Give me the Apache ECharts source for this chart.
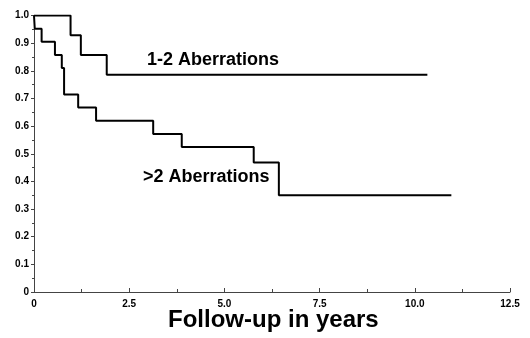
<!DOCTYPE html>
<html>
<head>
<meta charset="utf-8">
<script src="https://cdn.jsdelivr.net/npm/echarts@6/dist/echarts.min.js"></script>
<style>
  html, body { margin: 0; padding: 0; background: #fff; }
  #survChart { width: 530px; height: 338px; }
</style>
</head>
<body>
<div id="survChart"></div>
<script>
var fontFam = '"Liberation Sans", Arial, sans-serif';
var axisColor = '#444';

// 1-2 Aberrations (Kaplan-Meier steps)
var fewTimes = [0, 0.96, 1.23, 1.91, 10.33];
var fewSurv = [1.0, 0.929, 0.857, 0.786, 0.786];

// >2 Aberrations
var manyTimes = [0, 0.02, 0.2, 0.55, 0.73, 0.79, 1.16, 1.63, 3.13, 3.88, 5.77, 6.43, 10.96];
var manySurv = [1.0, 0.952, 0.905, 0.857, 0.81, 0.714, 0.667, 0.619, 0.571, 0.524, 0.468, 0.35, 0.35];

var xTicks = [0, 2.5, 5.0, 7.5, 10.0, 12.5];
var yTicks = [0, 0.1, 0.2, 0.3, 0.4, 0.5, 0.6, 0.7, 0.8, 0.9, 1.0];

var pairs = function (xs, ys) {
    return xs.map(function (x, i) { return [x, ys[i]]; });
};

var tickText = function (v) {
    return v === 0 ? '0' : v.toFixed(1);
};

var survChart = function () {
    var myChart = echarts.init(document.getElementById('survChart'));
    var option = {
        animation: false,
        grid: {
            left: 34,
            right: 20,
            top: 15.5,
            bottom: 46
        },
        xAxis: {
            type: 'value',
            min: xTicks[0],
            max: xTicks[xTicks.length - 1],
            interval: xTicks[1] - xTicks[0],
            axisLine: { show: true, lineStyle: { color: axisColor, width: 1 } },
            axisTick: { show: true, inside: true, length: 4, lineStyle: { color: axisColor } },
            minorTick: { show: true, splitNumber: 2, length: 3, lineStyle: { color: axisColor } },
            splitLine: { show: false },
            axisLabel: {
                margin: 7,
                color: '#000',
                fontSize: 10,
                fontWeight: 'bold',
                fontFamily: fontFam,
                formatter: tickText
            }
        },
        yAxis: {
            type: 'value',
            min: yTicks[0],
            max: yTicks[yTicks.length - 1],
            interval: yTicks[1] - yTicks[0],
            axisLine: { show: true, lineStyle: { color: axisColor, width: 1 } },
            axisTick: { show: true, length: 3, lineStyle: { color: axisColor } },
            minorTick: { show: true, splitNumber: 2, length: 2, lineStyle: { color: axisColor } },
            splitLine: { show: false },
            axisLabel: {
                margin: 5,
                color: '#000',
                fontSize: 10,
                fontWeight: 'bold',
                fontFamily: fontFam,
                formatter: tickText
            }
        },
        series: [
            {
                name: '1-2 Aberrations',
                type: 'line',
                step: 'end',
                symbol: 'none',
                lineStyle: { color: '#000', width: 2 },
                data: pairs(fewTimes, fewSurv)
            },
            {
                name: '>2 Aberrations',
                type: 'line',
                step: 'end',
                symbol: 'none',
                lineStyle: { color: '#000', width: 2 },
                data: pairs(manyTimes, manySurv)
            }
        ],
        graphic: [
            {
                type: 'text',
                left: 147,
                top: 51,
                style: { text: '1-2 Aberrations', fill: '#000', font: 'bold 18px ' + fontFam }
            },
            {
                type: 'text',
                left: 143,
                top: 168,
                style: { text: '>2 Aberrations', fill: '#000', font: 'bold 18px ' + fontFam }
            },
            {
                type: 'text',
                left: 168,
                top: 308,
                style: { text: 'Follow-up in years', fill: '#000', font: 'bold 24px ' + fontFam }
            }
        ]
    };
    myChart.setOption(option);
};

survChart();
</script>
</body>
</html>
